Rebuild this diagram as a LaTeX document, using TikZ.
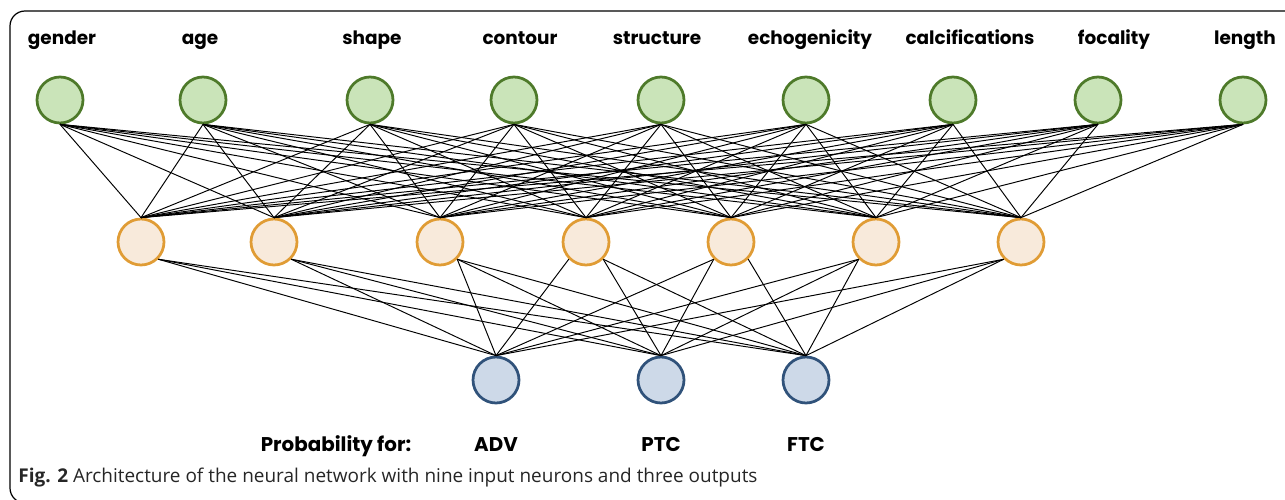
\documentclass[tikz,border=0pt]{standalone}
\usepackage{fontspec}
\setmainfont{Open Sans}
\newfontfamily\labelfont{Poppins}
\definecolor{ingreen}{HTML}{CAE4B9}
\definecolor{indark}{HTML}{4E7A2A}
\definecolor{hidfill}{HTML}{F8EADB}
\definecolor{hidedge}{HTML}{E09C35}
\definecolor{outfill}{HTML}{CDD9E8}
\definecolor{outedge}{HTML}{30527A}
\tikzset{
  neuron/.style={circle, minimum size=0.92cm, inner sep=0pt, line width=0.055cm},
  innode/.style={neuron, fill=ingreen, draw=indark},
  hidnode/.style={neuron, fill=hidfill, draw=hidedge},
  outnode/.style={neuron, fill=outfill, draw=outedge},
  link/.style={black, line width=0.55pt},
  toplabel/.style={font=\labelfont\bfseries\fontsize{10.5}{12}\selectfont, inner sep=0pt, anchor=base},
  botlabel/.style={toplabel, font=\labelfont\bfseries\fontsize{11.3}{13}\selectfont}
}
\begin{document}
\begin{tikzpicture}[x=0.02cm, y=-0.02cm]
\useasboundingbox (0,0) rectangle (1285,500);
\clip (0,0) rectangle (1285,500);
\draw[line width=0.7pt, rounded corners=0.3cm] (1300,11) -- (10,11) -- (10,503) -- (1300,503);

% input layer
\foreach \x/\lx/\name [count=\i] in {60/62/gender, 203/200/age, 370/372/shape,
  514/520/contour, 661/657/structure, 806/810/echogenicity,
  953/970/calcifications, 1098/1114/focality, 1243/1245/length} {
  \node[innode] (i\i) at (\x,100) {};
  \node[toplabel] (l\i) at (\lx,45) {\name};
}

% hidden layer
\foreach \x [count=\j] in {141, 274, 440, 586, 731, 876, 1021}
  \node[hidnode] (h\j) at (\x,242) {};

% output layer
\foreach \x/\name [count=\k] in {496/ADV, 661/PTC, 806/FTC} {
  \node[outnode] (o\k) at (\x,380) {};
  \node[botlabel] (p\k) at (\x,451) {\name};
}
\node[botlabel] (prob) at (336,451) {Probability for:};

% connections
\foreach \i in {1,...,9}
  \foreach \j in {1,...,7}
    \draw[link] (i\i.south) -- (h\j.north);

\foreach \j/\a/\b/\c in {1/south east/south east/south east,
  2/south east/south east/south east, 3/south east/south east/south east,
  4/south west/south east/south east, 5/south west/south west/south east,
  6/south west/south west/south west, 7/south west/south west/south west} {
  \draw[link] (h\j.\a) -- (o1.north);
  \draw[link] (h\j.\b) -- (o2.north);
  \draw[link] (h\j.\c) -- (o3.north);
}

\node[anchor=west, inner sep=0pt, font=\fontsize{10.8}{12}\selectfont, text=black!85] (caption) at (18,478)
  {\textbf{Fig. 2} Architecture of the neural network with nine input neurons and three outputs};
\end{tikzpicture}
\end{document}
